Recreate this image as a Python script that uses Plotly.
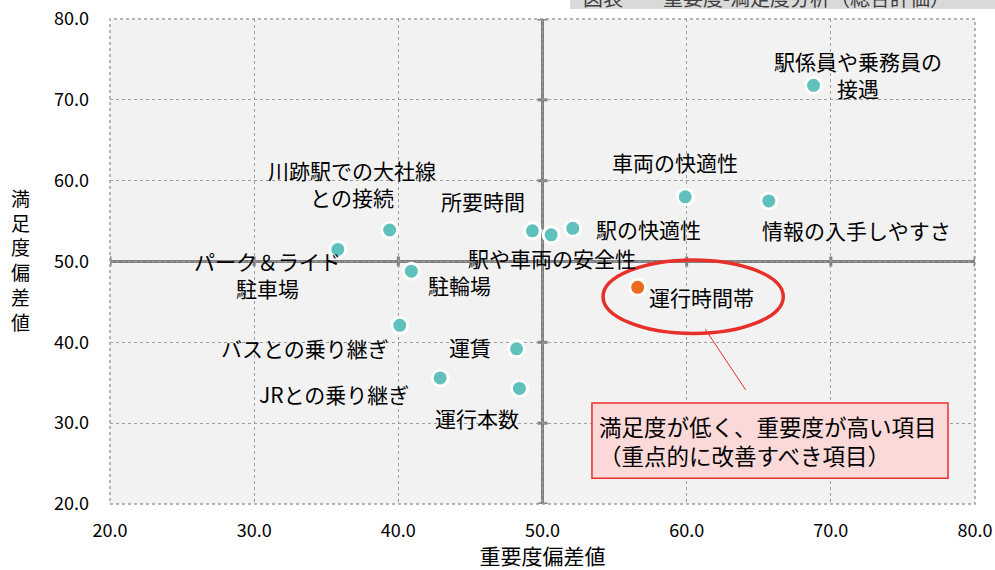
import plotly.graph_objects as go

# ---- data ----
items = ["駅係員や乗務員の<br>接遇", "車両の快適性", "情報の入手しやすさ", "駅の快適性",
         "駅や車両の安全性", "所要時間", "川跡駅での大社線<br>との接続", "パーク＆ライド<br>駐車場",
         "駐輪場", "運行時間帯", "バスとの乗り継ぎ", "運賃", "JRとの乗り継ぎ", "運行本数"]
importance = [68.8, 59.9, 65.7, 52.1, 50.6, 49.3, 39.4, 35.8, 40.9, 56.6, 40.1, 48.2, 42.9, 48.4]
satisfaction = [71.8, 58.0, 57.5, 54.1, 53.3, 53.8, 53.9, 51.5, 48.8, 46.8, 42.1, 39.2, 35.6, 34.3]
highlight = "運行時間帯"
tick_vals = [20, 30, 40, 50, 60, 70, 80]
tick_text = ["20.0", "30.0", "40.0", "50.0", "60.0", "70.0", "80.0"]

# label offsets in pixels (style)
label_shift = [(44, 11), (-10, 35), (88, -29), (76, -1), (1, -23), (-49, 30), (-38, 46),
               (-70, -25), (48, -14), (64, -10), (-95, -23), (-47, 2), (-106, -16), (-42, -30)]

FONT = "Noto Sans CJK JP"
TEAL = "#5FC0BC"
ORANGE = "#EB6B1F"
GRID = "#9E9E9E"
AXISC = "#808080"

colors = [ORANGE if n == highlight else TEAL for n in items]

fig = go.Figure()
fig.add_trace(go.Scatter(
    x=importance, y=satisfaction, mode="markers",
    marker=dict(size=16, color=colors, line=dict(color="white", width=3)),
    hoverinfo="skip", showlegend=False))

annotations = []
for name, xv, yv, (dx, dy) in zip(items, importance, satisfaction, label_shift):
    annotations.append(dict(x=xv, y=yv, text=name, showarrow=False, xshift=dx, yshift=dy,
                            font=dict(family=FONT, size=21, color="#000000"), align="center"))

# y axis title (vertical stacked)
annotations.append(dict(xref="paper", yref="paper", x=-0.103, y=0.505, text="<br>".join("満足度偏差値"),
                        showarrow=False, font=dict(family=FONT, size=19, color="#000000"),
                        xanchor="center", yanchor="middle"))

# callout box text
annotations.append(dict(x=53.75, y=27.9, text="満足度が低く、重要度が高い項目<br>（重点的に改善すべき項目）",
                        showarrow=False, xanchor="left", yanchor="middle", align="left",
                        font=dict(family=FONT, size=22.5, color="#000000")))

# cropped title at top
annotations.append(dict(xref="paper", yref="paper", x=0.545, y=1.045, text="図表　　重要度-満足度分析（総合評価）",
                        showarrow=False, xanchor="left", yanchor="middle",
                        font=dict(family=FONT, size=20, color="#404040")))

shapes = []
# title gray band
shapes.append(dict(type="rect", xref="paper", yref="paper", x0=0.532, x1=1.05, y0=1.0206, y1=1.1,
                   fillcolor="#D9D9D9", line=dict(width=0), layer="below"))
# plot border dotted
shapes.append(dict(type="rect", xref="paper", yref="paper", x0=0, x1=1, y0=0, y1=1,
                   line=dict(color=GRID, width=1.5, dash="dot"), layer="above"))
# center lines
shapes.append(dict(type="line", x0=50, x1=50, y0=20, y1=80, line=dict(color=AXISC, width=3), layer="below"))
shapes.append(dict(type="line", x0=20, x1=80, y0=50, y1=50, line=dict(color=AXISC, width=3), layer="below"))
# tick marks on center lines
for tv in tick_vals:
    shapes.append(dict(type="line", x0=tv, x1=tv, yref="y", ysizemode="pixel", yanchor=50,
                       y0=-5, y1=5, line=dict(color=AXISC, width=3), layer="below"))
    shapes.append(dict(type="line", y0=tv, y1=tv, xref="x", xsizemode="pixel", xanchor=50,
                       x0=-5, x1=5, line=dict(color=AXISC, width=3), layer="below"))
# red ellipse
shapes.append(dict(type="circle", x0=54.2, x1=66.7, y0=41.1, y1=50.2,
                   line=dict(color="#E8302A", width=3.5), layer="above"))
# callout pointer
shapes.append(dict(type="line", x0=61.3, x1=64.1, y0=41.6, y1=34.1,
                   line=dict(color="#E8302A", width=1), layer="above"))
# callout box
shapes.append(dict(type="rect", x0=53.43, x1=78.13, y0=23.2, y1=32.5,
                   fillcolor="#FBD9D8", line=dict(color="#E8302A", width=1.5), layer="above"))

fig.update_layout(
    width=995, height=570,
    margin=dict(l=110, r=20, t=19, b=66, autoexpand=False),
    paper_bgcolor="white", plot_bgcolor="#F2F2F2",
    font=dict(family=FONT, size=18, color="#000000"),
    xaxis=dict(range=[20, 80], tickvals=tick_vals, ticktext=tick_text, showgrid=True,
               gridcolor=GRID, griddash="dot", gridwidth=1, zeroline=False, showline=False,
               ticks="", automargin=False, ticklabelstandoff=14,
               tickfont=dict(family=FONT, size=18, color="#000000"),
               title=dict(text="重要度偏差値", font=dict(family=FONT, size=21), standoff=2)),
    yaxis=dict(range=[20, 80], tickvals=tick_vals, ticktext=tick_text, showgrid=True,
               gridcolor=GRID, griddash="dot", gridwidth=1, zeroline=False, showline=False,
               ticks="", automargin=False, ticklabelstandoff=20,
               tickfont=dict(family=FONT, size=18, color="#000000")),
    annotations=annotations, shapes=shapes,
)

fig.write_html("out.html", config={"displayModeBar": False},
               post_script="document.body.style.margin='0';document.body.style.overflow='hidden';")
